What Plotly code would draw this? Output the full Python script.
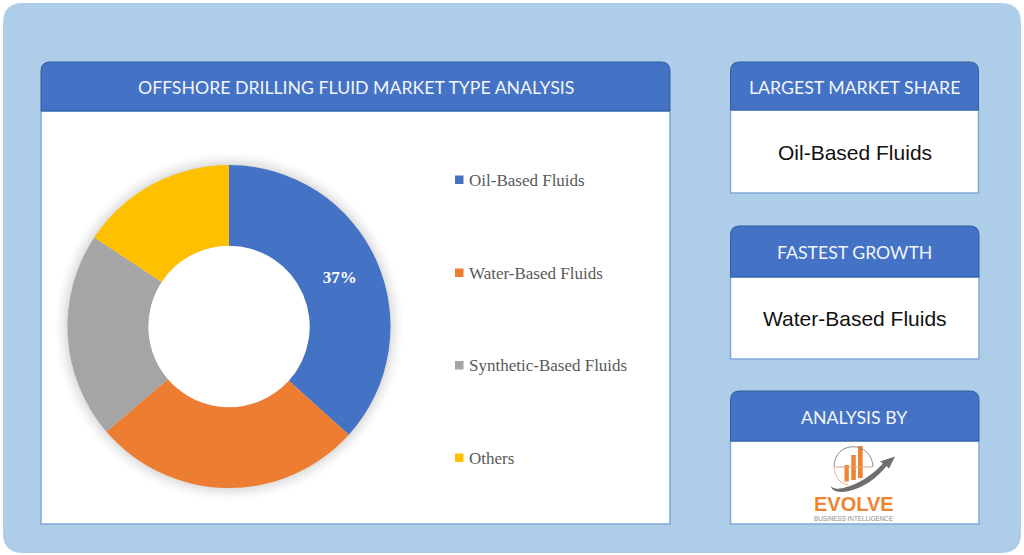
import plotly.graph_objects as go

# market split
fluid_types = ["Oil-Based Fluids", "Water-Based Fluids", "Synthetic-Based Fluids", "Others"]
fluid_shares = [36.7, 27, 20.6, 15.7]
slice_labels = ["37%", "", "", ""]
slice_colors = ["#4472C4", "#ED7D31", "#A5A5A5", "#FFC000"]

main_title = "OFFSHORE DRILLING FLUID MARKET TYPE ANALYSIS"
card_titles = ["LARGEST MARKET SHARE", "FASTEST GROWTH", "ANALYSIS BY"]
card_values = ["Oil-Based Fluids", "Water-Based Fluids", ""]

W, H = 1024, 555
HEADER_BLUE = "#4472C4"
HEADER_EDGE = "#2F5F9E"
BODY_EDGE = "#7DA9D9"
BACKDROP = "#AECDE8"
ORANGE = "#EE8433"
GREY = "#6E6E6E"

CX, CY, R = 229, 326.5, 161.5
HOLE = 0.5


def round_top(x0, y0, x1, y1, r):
    return (f"M{x0},{y1} L{x0},{y0 + r} Q{x0},{y0} {x0 + r},{y0} "
            f"L{x1 - r},{y0} Q{x1},{y0} {x1},{y0 + r} L{x1},{y1} Z")


def round_all(x0, y0, x1, y1, r):
    return (f"M{x0},{y1 - r} L{x0},{y0 + r} Q{x0},{y0} {x0 + r},{y0} "
            f"L{x1 - r},{y0} Q{x1},{y0} {x1},{y0 + r} L{x1},{y1 - r} "
            f"Q{x1},{y1} {x1 - r},{y1} L{x0 + r},{y1} Q{x0},{y1} {x0},{y1 - r} Z")


shapes = [dict(type="path", path=round_all(3, 3, 1021, 553, 20), fillcolor=BACKDROP, line_width=0, layer="below")]
annotations = []


def add_text(x, y, text, size, color, family, bold=False):
    annotations.append(dict(
        x=x, y=y, xref="x", yref="y", text=f"<b>{text}</b>" if bold else text,
        showarrow=False, xanchor="center", yanchor="middle",
        font=dict(size=size, color=color, family=family),
    ))


def add_card(x0, y0, x1, y_head, y1, title, value):
    shapes.append(dict(type="rect", x0=x0, y0=y_head, x1=x1, y1=y1, fillcolor="white",
                       line=dict(color=BODY_EDGE, width=1.5), layer="below"))
    shapes.append(dict(type="path", path=round_top(x0, y0, x1, y_head, 9), fillcolor=HEADER_BLUE,
                       line=dict(color=HEADER_EDGE, width=1), layer="below"))
    add_text((x0 + x1) / 2, (y0 + y_head) / 2 + 1, title, 17.7, "#F2F6FC", "Lato")
    if value:
        add_text((x0 + x1) / 2, (y_head + y1) / 2 + 0.5, value, 21, "#111111", "Liberation Sans")


add_card(41, 62, 670, 111, 524, main_title, "")
add_card(730.5, 62, 978.5, 110, 193, card_titles[0], card_values[0])
add_card(730.5, 226, 979, 277, 359, card_titles[1], card_values[1])
add_card(730.5, 391, 979, 441, 524, card_titles[2], card_values[2])

# soft shadow behind the donut, hole painted back to white
for grow, alpha in [(13, 0.008), (11, 0.012), (9, 0.016), (7, 0.02), (5, 0.022), (3, 0.025), (1, 0.03)]:
    shapes.append(dict(type="circle", x0=CX - R - grow, x1=CX + R + grow, y0=CY - R - grow, y1=CY + R + grow,
                       fillcolor=f"rgba(0,0,0,{alpha})", line_width=0, layer="below"))
shapes.append(dict(type="circle", x0=CX - R * HOLE, x1=CX + R * HOLE, y0=CY - R * HOLE, y1=CY + R * HOLE,
                   fillcolor="white", line_width=0, layer="below"))

# hand-placed legend, the entries are spread too far apart for a plotly legend
legend_y = [180, 273, 365.5, 458]
for name, color, y in zip(fluid_types, slice_colors, legend_y):
    shapes.append(dict(type="rect", x0=455, x1=463.5, y0=y - 4.5, y1=y + 4, fillcolor=color, line_width=0))
    annotations.append(dict(x=467, y=y, xref="x", yref="y", text=name, showarrow=False,
                            xanchor="left", yanchor="middle",
                            font=dict(size=17, color="#595959", family="Liberation Serif")))

# logo
for bx0, bx1, by0, by1 in [(844.5, 848.8, 465, 481.5), (851.3, 855.8, 455, 480), (858, 862.7, 446, 478)]:
    shapes.append(dict(type="rect", x0=bx0, x1=bx1, y0=by0, y1=by1, fillcolor=ORANGE, line_width=0))
shapes.append(dict(type="path", path="M834,467 C834,440 872,440 873,467", line=dict(color="#8A8A8A", width=1)))
shapes.append(dict(type="path", path="M834,467 C835,478 841,484 848,485", line=dict(color="#E8B48C", width=1)))
shapes.append(dict(type="path", path="M835,467 L872,467", line=dict(color="#D9A77F", width=1)))
shapes.append(dict(type="path", path="M831,486 C834,490 841,489 850,486 C864,481 875,472 883,463.5 L880,461.5 L895,456.5 L889,468.5 L886.5,466 "
                                     "C877,478 863,488 849,491 C840,493 832,492 831,486 Z",
                   fillcolor=GREY, line_width=0))
add_text(853.5, 504, "EVOLVE", 20, ORANGE, "Liberation Sans", bold=True)
add_text(853.5, 518.5, "BUSINESS INTELLIGENCE", 6.3, "#8C8C8C", "Liberation Sans")

fig = go.Figure()

fig.add_trace(go.Pie(
    labels=fluid_types,
    values=fluid_shares,
    text=slice_labels,
    textinfo="text",
    textposition="inside",
    insidetextorientation="horizontal",
    textfont=dict(size=17, color="white", family="Liberation Serif", weight="bold"),
    hole=HOLE,
    sort=False,
    direction="clockwise",
    rotation=0,
    marker=dict(colors=slice_colors, line=dict(width=0)),
    domain=dict(x=[(CX - R) / W, (CX + R) / W], y=[1 - (CY + R) / H, 1 - (CY - R) / H]),
    showlegend=False,
))

# invisible axes in page pixels so the cards can be placed by eye
fig.add_trace(go.Scatter(x=[0, W], y=[0, H], mode="markers", marker=dict(opacity=0), hoverinfo="skip", showlegend=False))

fig.update_layout(
    width=W,
    height=H,
    margin=dict(l=0, r=0, t=0, b=0),
    paper_bgcolor="white",
    plot_bgcolor="white",
    xaxis=dict(range=[0, W], visible=False, fixedrange=True),
    yaxis=dict(range=[H, 0], visible=False, fixedrange=True),
    shapes=shapes,
    annotations=annotations,
)

fig.write_html("out.html", post_script="document.body.style.margin='0';", config=dict(displayModeBar=False))
